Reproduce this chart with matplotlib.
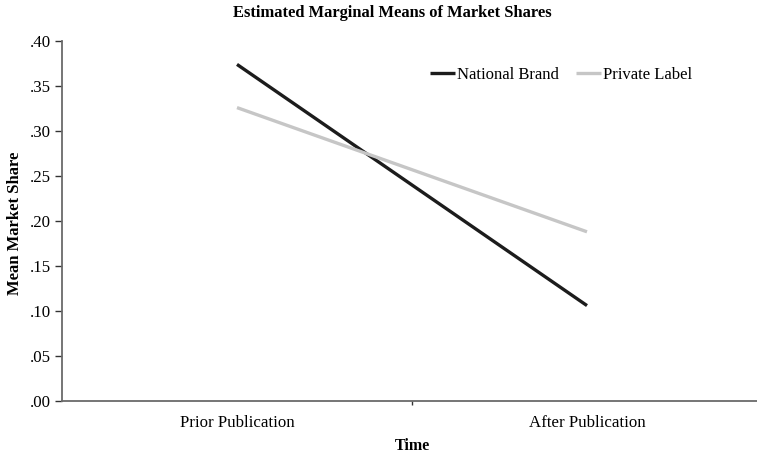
import matplotlib
matplotlib.use("Agg")
import matplotlib.pyplot as plt
from matplotlib.ticker import FuncFormatter, FixedLocator

categories = ["Prior Publication", "After Publication"]
national_brand = [0.374, 0.106]
private_label = [0.326, 0.188]
yticks = [0.00, 0.05, 0.10, 0.15, 0.20, 0.25, 0.30, 0.35, 0.40]

plt.rcParams['font.family'] = ['Liberation Serif', 'DejaVu Serif']

W, H = 757, 457
fig = plt.figure(figsize=(W / 100, H / 100), dpi=100)
left, bottom = 62 / W, (H - 401) / H
top = (H - 41) / H
ax = fig.add_axes([left, bottom, 1 - left, top - bottom])

x = [0.5, 1.5]
ax.plot(x, national_brand, color='#1c1c1c', lw=2.4, solid_capstyle='butt', label='National Brand')
ax.plot(x, private_label, color='#c6c6c6', lw=2.4, solid_capstyle='butt', label='Private Label')

ax.set_xlim(0, (W - 62) / 350)
ax.set_ylim(0, 0.40)

axis_col = '#6a6a6a'
for s in ['top', 'right']:
    ax.spines[s].set_visible(False)
for s in ['left', 'bottom']:
    ax.spines[s].set_color(axis_col)
    ax.spines[s].set_linewidth(1.3)

ax.set_yticks(yticks)
ax.yaxis.set_major_formatter(FuncFormatter(lambda v, p: ("%.2f" % v)[1:] if v < 1 else "%.2f" % v))
ax.tick_params(axis='y', direction='out', length=5, width=1.0, color='#333333', labelsize=12.2, pad=3)

ax.set_xticks(x)
ax.set_xticklabels(categories)
ax.tick_params(axis='x', which='major', length=0, labelsize=12.2, pad=10)
ax.xaxis.set_minor_locator(FixedLocator([1.0]))
ax.tick_params(axis='x', which='minor', direction='out', length=3, width=1.0, color='#333333')

fig.text(412 / W, 1 - 446 / H, 'Time', ha='center', va='center', fontsize=11.5, fontweight='bold')
fig.text(15 / W, 1 - 223 / H, 'Mean Market Share', ha='center', va='center', rotation=90,
         fontsize=12, fontweight='bold')

fig.text(392 / W, 1 - 13 / H, 'Estimated Marginal Means of Market Shares',
         ha='center', va='center', fontsize=11.9, fontweight='bold')

ax.legend(ncol=2, loc='center left', bbox_to_anchor=((430 - 62) / (W - 62), (401 - 75) / 360),
          frameon=False, fontsize=12, handlelength=1.5, handletextpad=0.1,
          columnspacing=1.05, borderaxespad=0, borderpad=0)

fig.savefig('out.png', dpi=100)
